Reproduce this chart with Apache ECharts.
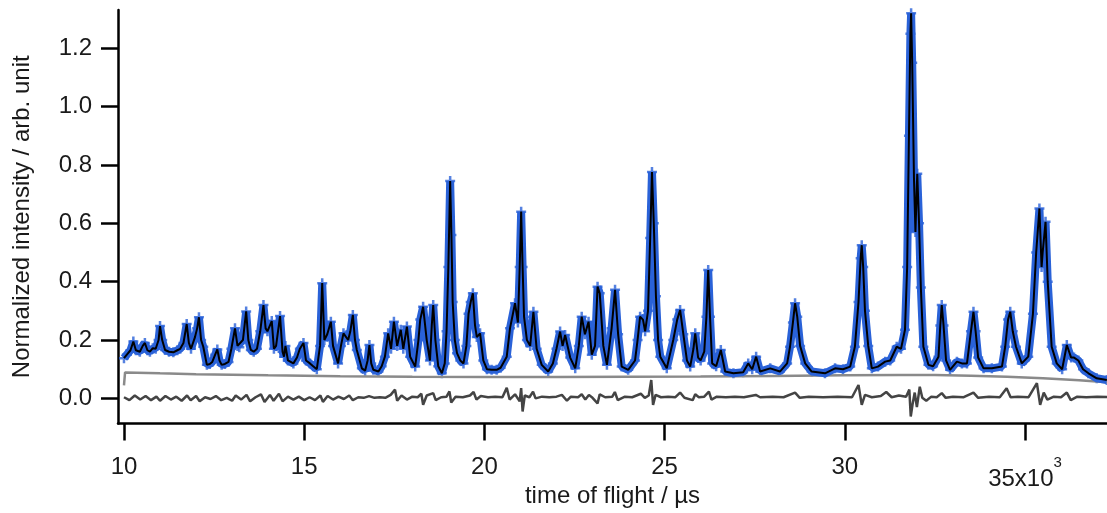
<!DOCTYPE html>
<html lang="en">
<head>
<meta charset="UTF-8">
<title>Time of flight profile</title>
<script src="https://cdn.jsdelivr.net/npm/echarts@6/dist/echarts.min.js"></script>
<style>
  html, body { margin: 0; padding: 0; background: #fff; }
  #chart { width: 1107px; height: 513px; }
</style>
</head>
<body>
<div id="chart"></div>
<script>
// tick positions (time of flight in us, intensity)
const xTicks = [10000, 15000, 20000, 25000, 30000, 35000];
const yTicks = [0, 0.2, 0.4, 0.6, 0.8, 1.0, 1.2];

// observed / calculated profile, [tof, intensity]
const profile = [
  [10000, 0.138], [10080, 0.150], [10180, 0.165], [10260, 0.195], [10330, 0.165],
  [10440, 0.160], [10520, 0.180], [10580, 0.190], [10650, 0.165], [10720, 0.160],
  [10800, 0.172], [10880, 0.170], [10960, 0.200], [11000, 0.248], [11060, 0.200],
  [11140, 0.166], [11250, 0.160], [11370, 0.158], [11480, 0.165], [11560, 0.170],
  [11650, 0.190], [11740, 0.255], [11800, 0.190], [11860, 0.170], [11970, 0.210],
  [12030, 0.240], [12080, 0.278], [12140, 0.200], [12200, 0.177], [12300, 0.115],
  [12380, 0.118], [12450, 0.125], [12530, 0.150], [12590, 0.168], [12650, 0.130],
  [12710, 0.115], [12800, 0.118], [12900, 0.125], [12980, 0.170], [13080, 0.240],
  [13150, 0.180], [13200, 0.175], [13300, 0.200], [13390, 0.298], [13450, 0.200],
  [13520, 0.166], [13600, 0.160], [13690, 0.170], [13780, 0.230], [13870, 0.320],
  [13930, 0.240], [13980, 0.230], [14100, 0.265], [14160, 0.170], [14220, 0.180],
  [14330, 0.282], [14400, 0.160], [14440, 0.143], [14480, 0.180], [14550, 0.130],
  [14700, 0.120], [14800, 0.140], [14880, 0.170], [14980, 0.190], [15050, 0.130],
  [15160, 0.120], [15250, 0.110], [15350, 0.100], [15440, 0.180], [15500, 0.395],
  [15560, 0.200], [15640, 0.220], [15740, 0.263], [15800, 0.180], [15940, 0.120],
  [16020, 0.180], [16090, 0.223], [16220, 0.200], [16280, 0.230], [16350, 0.286],
  [16410, 0.200], [16460, 0.166], [16600, 0.103], [16690, 0.095], [16760, 0.130],
  [16810, 0.183], [16860, 0.120], [16920, 0.098], [17060, 0.092], [17150, 0.110],
  [17240, 0.143], [17330, 0.223], [17410, 0.170], [17490, 0.263], [17580, 0.180],
  [17680, 0.235], [17750, 0.170], [17850, 0.246], [17940, 0.143], [18080, 0.109],
  [18170, 0.200], [18220, 0.270], [18300, 0.314], [18400, 0.200], [18490, 0.130],
  [18540, 0.250], [18580, 0.320], [18640, 0.200], [18720, 0.110], [18820, 0.086],
  [18900, 0.120], [18950, 0.230], [19000, 0.450], [19050, 0.745], [19085, 0.560],
  [19120, 0.330], [19180, 0.200], [19240, 0.155], [19330, 0.130], [19420, 0.120],
  [19500, 0.180], [19560, 0.290], [19620, 0.330], [19680, 0.360], [19740, 0.250],
  [19790, 0.210], [19880, 0.223], [19970, 0.130], [20070, 0.100], [20200, 0.098],
  [20340, 0.098], [20450, 0.105], [20620, 0.143], [20710, 0.240], [20850, 0.326],
  [20930, 0.260], [20980, 0.450], [21020, 0.640], [21060, 0.450], [21100, 0.280],
  [21180, 0.200], [21270, 0.180], [21360, 0.297], [21450, 0.170], [21590, 0.115],
  [21770, 0.092], [21900, 0.120], [22000, 0.170], [22100, 0.229], [22170, 0.180],
  [22240, 0.217], [22380, 0.140], [22520, 0.103], [22620, 0.180], [22700, 0.280],
  [22790, 0.220], [22890, 0.263], [22980, 0.150], [23070, 0.180], [23140, 0.383],
  [23200, 0.360], [23300, 0.180], [23400, 0.115], [23530, 0.240], [23625, 0.372],
  [23710, 0.220], [23810, 0.109], [23990, 0.098], [24180, 0.130], [24250, 0.200],
  [24320, 0.280], [24400, 0.270], [24460, 0.230], [24540, 0.300], [24600, 0.550],
  [24650, 0.776], [24700, 0.600], [24760, 0.350], [24820, 0.200], [24880, 0.143],
  [25060, 0.103], [25240, 0.200], [25350, 0.270], [25430, 0.303], [25520, 0.220],
  [25620, 0.130], [25710, 0.109], [25800, 0.170], [25850, 0.223], [25930, 0.140],
  [26000, 0.130], [26100, 0.160], [26160, 0.280], [26210, 0.440], [26260, 0.280],
  [26320, 0.120], [26430, 0.110], [26560, 0.166], [26680, 0.092], [26910, 0.086],
  [27180, 0.090], [27320, 0.120], [27430, 0.100], [27540, 0.143], [27650, 0.092],
  [27930, 0.103], [28200, 0.092], [28400, 0.120], [28480, 0.177], [28560, 0.260],
  [28620, 0.326], [28680, 0.280], [28760, 0.180], [28900, 0.120], [29080, 0.092],
  [29450, 0.086], [29730, 0.103], [29950, 0.100], [30150, 0.109], [30280, 0.177],
  [30380, 0.330], [30440, 0.480], [30470, 0.525], [30510, 0.450], [30560, 0.300],
  [30650, 0.180], [30750, 0.103], [30920, 0.109], [31120, 0.126], [31260, 0.130],
  [31440, 0.177], [31560, 0.170], [31670, 0.235], [31730, 0.450], [31780, 0.900],
  [31820, 1.250], [31840, 1.320], [31870, 1.150], [31920, 0.750], [31960, 0.570],
  [32010, 0.770], [32060, 0.600], [32110, 0.380], [32180, 0.177], [32320, 0.115],
  [32450, 0.110], [32600, 0.143], [32650, 0.250], [32690, 0.320], [32740, 0.250],
  [32810, 0.130], [32920, 0.098], [33110, 0.126], [33250, 0.120], [33390, 0.120],
  [33500, 0.230], [33570, 0.297], [33630, 0.230], [33700, 0.140], [33850, 0.103],
  [34080, 0.103], [34360, 0.109], [34450, 0.177], [34530, 0.270], [34590, 0.297],
  [34660, 0.230], [34750, 0.177], [34910, 0.120], [35090, 0.143], [35220, 0.290],
  [35310, 0.500], [35400, 0.651], [35460, 0.450], [35490, 0.500], [35570, 0.605],
  [35630, 0.400], [35740, 0.177], [35880, 0.120], [36030, 0.100], [36160, 0.183],
  [36280, 0.140], [36360, 0.140], [36480, 0.130], [36610, 0.100], [36760, 0.086],
  [36990, 0.069], [37270, 0.063]
];

// refined background
const background = [
  [10000, 0.045], [10030, 0.089], [11000, 0.086], [12000, 0.083], [14000, 0.079],
  [16000, 0.076], [18000, 0.074], [20000, 0.073], [22000, 0.073], [24000, 0.074],
  [26000, 0.075], [28000, 0.077], [30000, 0.079], [31500, 0.080], [32500, 0.080],
  [33500, 0.078], [34500, 0.074], [35500, 0.069], [36500, 0.062], [37275, 0.055]
];

// obs - calc difference
const difference = [
  [10000, 0.004], [10150, -0.006], [10300, 0.010], [10450, -0.004], [10600, 0.008],
  [10750, -0.006], [10900, 0.006], [11000, -0.008], [11150, 0.008], [11300, -0.004],
  [11450, 0.006], [11600, -0.008], [11750, 0.010], [11850, -0.006], [12000, 0.008],
  [12100, -0.010], [12250, 0.004], [12400, -0.002], [12550, 0.008], [12700, -0.006],
  [12850, 0.002], [13000, -0.008], [13100, 0.010], [13250, -0.004], [13400, 0.012],
  [13500, -0.010], [13650, 0.004], [13800, 0.014], [13900, -0.012], [14050, 0.012],
  [14150, -0.008], [14300, 0.016], [14400, -0.010], [14550, 0.006], [14700, -0.004],
  [14850, 0.006], [15000, -0.006], [15150, 0.004], [15300, -0.006], [15450, 0.010],
  [15520, -0.012], [15650, 0.008], [15800, -0.004], [15950, 0.006], [16100, -0.002],
  [16250, 0.010], [16350, -0.006], [16500, 0.004], [16650, 0.002], [16800, 0.008],
  [16950, 0.002], [17100, 0.004], [17250, 0.002], [17400, 0.012], [17520, 0.030],
  [17580, -0.008], [17700, 0.010], [17850, -0.004], [18000, 0.006], [18150, 0.004],
  [18250, 0.016], [18300, -0.022], [18400, 0.010], [18580, 0.018], [18650, -0.006],
  [18800, 0.004], [18950, 0.006], [19030, 0.024], [19080, -0.014], [19200, 0.006],
  [19400, 0.004], [19600, 0.010], [19700, 0.022], [19780, -0.004], [19900, 0.008],
  [20100, 0.004], [20300, 0.006], [20500, 0.004], [20620, 0.036], [20700, -0.004],
  [20850, 0.014], [20980, -0.010], [21020, 0.035], [21060, -0.045], [21120, 0.010],
  [21250, 0.004], [21350, 0.023], [21420, 0.000], [21600, 0.006], [21800, 0.004],
  [22000, 0.006], [22150, 0.012], [22290, -0.008], [22400, 0.006], [22600, 0.004],
  [22700, 0.014], [22800, -0.004], [22900, 0.012], [23000, 0.002], [23140, -0.017],
  [23200, 0.014], [23350, 0.004], [23550, 0.006], [23620, 0.022], [23700, -0.006],
  [23900, 0.006], [24100, 0.004], [24340, 0.016], [24450, 0.002], [24560, 0.010],
  [24630, 0.063], [24680, -0.022], [24750, 0.012], [24900, 0.004], [25100, 0.006],
  [25300, 0.004], [25430, 0.020], [25550, 0.002], [25780, -0.006], [25850, 0.014],
  [25950, 0.004], [26100, 0.006], [26230, 0.023], [26300, -0.004], [26450, 0.006],
  [26700, 0.004], [26950, 0.006], [27200, 0.004], [27530, 0.012], [27650, 0.004],
  [28000, 0.006], [28300, 0.004], [28620, 0.020], [28750, 0.002], [29000, 0.006],
  [29400, 0.004], [29800, 0.006], [30200, 0.004], [30380, 0.046], [30470, -0.022],
  [30560, 0.012], [30750, 0.004], [31000, 0.008], [31150, 0.022], [31300, 0.004],
  [31500, 0.010], [31700, 0.006], [31790, 0.030], [31830, -0.062], [31880, -0.020],
  [31940, 0.020], [32000, -0.030], [32080, 0.040], [32150, 0.002], [32260, -0.008],
  [32400, 0.006], [32550, 0.004], [32690, 0.018], [32800, 0.002], [33000, 0.006],
  [33300, 0.004], [33570, 0.020], [33700, 0.002], [34000, 0.006], [34300, 0.004],
  [34490, 0.035], [34600, 0.004], [34800, 0.006], [35100, 0.004], [35330, 0.052],
  [35420, -0.022], [35520, 0.020], [35620, -0.004], [35800, 0.006], [36000, 0.004],
  [36160, 0.020], [36270, -0.006], [36450, 0.006], [36700, 0.004], [37000, 0.006],
  [37275, 0.005]
];

const FONT = 'Liberation Sans, Arial, sans-serif';
const TXT = '#1a1a1a';
const BLUE = '#2a62d8';
const PLUS = 'path://M3,0h2v3h3v2h-3v3h-2v-3h-3v-2h3z';

const chart = echarts.init(document.getElementById('chart'));

chart.setOption({
  animation: false,
  grid: { left: 118, right: 0, top: 10, bottom: 89.5, outerBoundsMode: 'none', containLabel: false },
  xAxis: {
    type: 'value',
    min: 9834,
    max: 37275,
    name: 'time of flight / \u00b5s',
    nameLocation: 'middle',
    nameGap: 61,
    nameMoveOverlap: false,
    nameTextStyle: { fontFamily: FONT, fontSize: 24, color: TXT },
    axisLine: { onZero: false, lineStyle: { color: '#000', width: 2.5 } },
    axisTick: { customValues: xTicks, length: 17, lineStyle: { color: '#000', width: 2.5 } },
    axisLabel: {
      customValues: xTicks,
      margin: 32,
      fontFamily: FONT, fontSize: 24, color: TXT,
      formatter: v => v === 35000 ? '{n|35x10}{sup|3}' : String(v / 1000),
      rich: {
        n: { fontFamily: FONT, fontSize: 24, color: TXT, padding: [12, 0, 0, 0] },
        sup: { fontFamily: FONT, fontSize: 15, color: TXT, verticalAlign: 'top' }
      }
    },
    splitLine: { show: false }
  },
  yAxis: {
    type: 'value',
    min: -0.086,
    max: 1.331,
    name: 'Normalized intensity / arb. unit',
    nameLocation: 'middle',
    nameGap: 84,
    nameMoveOverlap: false,
    nameTextStyle: { fontFamily: FONT, fontSize: 24, color: TXT },
    axisLine: { show: true, onZero: false, lineStyle: { color: '#000', width: 2.5 } },
    axisTick: { show: true, customValues: yTicks, length: 17, lineStyle: { color: '#000', width: 2.5 } },
    axisLabel: {
      customValues: yTicks,
      margin: 26,
      fontFamily: FONT, fontSize: 24, color: TXT,
      formatter: v => v.toFixed(1)
    },
    splitLine: { show: false }
  },
  series: [
    {
      name: 'background', type: 'line', data: background, symbol: 'none',
      lineStyle: { color: '#8a8a8a', width: 2.5 }
    },
    {
      name: 'difference', type: 'line', data: difference, symbol: 'none',
      lineStyle: { color: '#444', width: 2.5 }
    },
    {
      name: 'observed', type: 'line', data: profile, symbol: 'none',
      lineStyle: { color: BLUE, width: 8 }
    },
    {
      name: 'observed points', type: 'scatter', data: profile,
      symbol: PLUS, symbolSize: 10, itemStyle: { color: BLUE }
    },
    {
      name: 'calculated', type: 'line', data: profile, symbol: 'none',
      lineStyle: { color: '#000', width: 2 }
    }
  ]
});
</script>
</body>
</html>
